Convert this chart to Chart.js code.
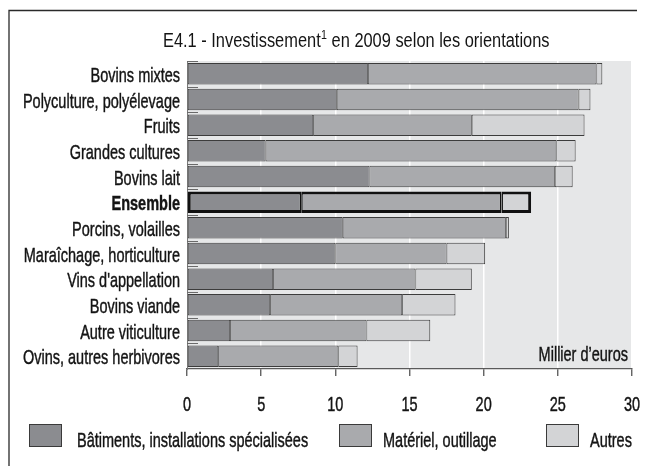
<!DOCTYPE html>
<html>
<head>
<meta charset="utf-8">
<script src="https://cdn.jsdelivr.net/npm/chart.js@4/dist/chart.umd.min.js"></script>
<style>
  html, body { margin: 0; padding: 0; background: #fff; }
  #wrap { width: 646px; height: 466px; }
</style>
</head>
<body>
<div id="wrap"><canvas id="myChart" width="646" height="466"></canvas></div>
<script>
/*
  • Data
  ---------- ---------- ---------- ---------- ----------
*/
const categories = [
  'Bovins mixtes', 'Polyculture, polyélevage', 'Fruits', 'Grandes cultures',
  'Bovins lait', 'Ensemble', 'Porcins, volailles', 'Maraîchage, horticulture',
  "Vins d'appellation", 'Bovins viande', 'Autre viticulture', 'Ovins, autres herbivores'
];
const batiments = [12.2, 10.1, 8.5, 5.3, 12.3, 7.7, 10.5, 10.0, 5.8, 5.6, 2.9, 2.1];
const materiel  = [15.4, 16.3, 10.7, 19.6, 12.5, 13.5, 11.0, 7.5, 9.6, 8.9, 9.2, 8.1];
const autres    = [0.4, 0.8, 7.6, 1.3, 1.2, 2.0, 0.2, 2.6, 3.8, 3.6, 4.3, 1.3];
const seriesNames = ['Bâtiments, installations spécialisées', 'Matériel, outillage', 'Autres'];
const xTicks = [0, 5, 10, 15, 20, 25, 30];
const titleText = ['E4.1 - Investissement', '1', ' en 2009 selon les orientations'];
const unitText = 'Millier d’euros';

/*
  • Config
  ---------- ---------- ---------- ---------- ----------
*/
const COLORS = ['#8b8c90', '#a9aaad', '#d3d4d6'];
const FONT = "'Liberation Sans', Arial, sans-serif";
const TEXT = '#141414';
const SX = 0.69;       // squeeze for the condensed labels
const SX_TITLE = 0.82; // narrow title
const ENSEMBLE = categories.indexOf('Ensemble');

function squeezed (ctx, text, x, y, font, align) {
  ctx.save();
  ctx.font = font;
  ctx.fillStyle = TEXT;
  ctx.strokeStyle = TEXT;
  ctx.lineWidth = 0.45;
  ctx.textAlign = align;
  ctx.textBaseline = 'alphabetic';
  ctx.translate(x, y);
  ctx.scale(SX, 1);
  ctx.fillText(text, 0, 0);
  ctx.strokeText(text, 0, 0);
  ctx.restore();
}

const decor = {
  id: 'decor',
  beforeDraw (chart) {
    const ctx = chart.ctx;
    const a = chart.chartArea;
    ctx.save();
    ctx.fillStyle = '#fff';
    ctx.fillRect(0, 0, chart.width, chart.height);
    ctx.fillStyle = '#e6e7e8';
    ctx.fillRect(a.left, a.top, a.right - a.left, a.bottom - a.top);
    // frame
    ctx.strokeStyle = '#2a2a2a';
    ctx.lineWidth = 1.3;
    ctx.beginPath();
    ctx.moveTo(9, chart.height);
    ctx.lineTo(9, 10.5);
    ctx.lineTo(637, 10.5);
    ctx.stroke();
    ctx.restore();
  },
  afterDraw (chart) {
    const ctx = chart.ctx;
    const a = chart.chartArea;
    const y = chart.scales.y;
    const x = chart.scales.x;

    // short inward ticks at category boundaries
    const step = y.getPixelForTick(1) - y.getPixelForTick(0);
    ctx.save();
    ctx.strokeStyle = '#6a6a6a';
    ctx.lineWidth = 1;
    chart.data.labels.forEach(function (lab, i) {
      const py = Math.round(y.getPixelForTick(i) - step / 2) + 0.5;
      ctx.beginPath();
      ctx.moveTo(a.left, py);
      ctx.lineTo(a.left + 11, py);
      ctx.stroke();
    });
    ctx.restore();

    // category labels
    chart.data.labels.forEach(function (lab, i) {
      const font = (i === ENSEMBLE ? 'bold ' : '') + '21px ' + FONT;
      squeezed(ctx, lab, a.left - 7, y.getPixelForTick(i) + 8, font, 'right');
    });

    // value labels
    xTicks.forEach(function (v) {
      squeezed(ctx, String(v), x.getPixelForValue(v), 410.5, '21px ' + FONT, 'center');
    });

    // unit
    squeezed(ctx, unitText, a.right - 4, 360.5, '21px ' + FONT, 'right');

    // title
    ctx.save();
    ctx.fillStyle = TEXT;
    ctx.textBaseline = 'alphabetic';
    ctx.textAlign = 'left';
    ctx.translate(163, 47);
    ctx.scale(SX_TITLE, 1);
    ctx.font = '20px ' + FONT;
    let tx = 0;
    ctx.fillText(titleText[0], tx, 0);
    tx += ctx.measureText(titleText[0]).width + 0.5;
    ctx.font = '13px ' + FONT;
    ctx.fillText(titleText[1], tx, -8);
    tx += ctx.measureText(titleText[1]).width;
    ctx.font = '20px ' + FONT;
    ctx.fillText(titleText[2], tx, 0);
    ctx.restore();

    // legend
    const boxX = [29, 339, 546];
    const textX = [77, 383, 590];
    chart.data.datasets.forEach(function (ds, i) {
      ctx.save();
      ctx.fillStyle = ds.backgroundColor;
      ctx.fillRect(boxX[i], 424, 33, 23);
      ctx.strokeStyle = '#3a3a3a';
      ctx.lineWidth = 1;
      ctx.strokeRect(boxX[i] + 0.5, 424.5, 32, 22);
      ctx.restore();
      squeezed(ctx, ds.label, textX[i], 447, '21px ' + FONT, 'left');
    });
  }
};

// outer ends of a stacked row get the full border, joins between segments a thinner one
function edges (index, last, outer, inner) {
  return {
    top: outer,
    bottom: outer,
    left: index === 0 ? outer : inner,
    right: index === last ? outer : inner
  };
}

function makeSet (label, data, color, index, last) {
  return {
    label: label,
    data: data,
    backgroundColor: color,
    borderColor: (c) => c.dataIndex === ENSEMBLE ? '#111111' : '#3c3c3c',
    borderWidth: (c) => c.dataIndex === ENSEMBLE ? edges(index, last, 3, 1.5) : edges(index, last, 1, 0.8),
    borderSkipped: false,
    inflateAmount: 0,
    categoryPercentage: 1,
    barPercentage: 0.84
  };
}

/*
  • Init
  ---------- ---------- ---------- ---------- ----------
*/
const ctx = document.getElementById('myChart').getContext('2d');
new Chart(ctx, {
  type: 'bar',
  data: {
    labels: categories,
    datasets: [
      makeSet(seriesNames[0], batiments, COLORS[0], 0, 2),
      makeSet(seriesNames[1], materiel, COLORS[1], 1, 2),
      makeSet(seriesNames[2], autres, COLORS[2], 2, 2)
    ]
  },
  options: {
    indexAxis: 'y',
    responsive: false,
    animation: false,
    layout: {
      padding: {top: 61, right: 14, left: 0, bottom: 0}
    },
    plugins: {
      legend: {display: false},
      title: {display: false},
      tooltip: {enabled: false}
    },
    scales: {
      x: {
        type: 'linear',
        stacked: true,
        min: 0,
        max: 30,
        afterFit: (s) => { s.height = 97; },
        afterBuildTicks: (s) => { s.ticks = xTicks.map((v) => ({value: v})); },
        grid: {
          color: '#ffffff',
          lineWidth: 1.5,
          drawTicks: true,
          tickLength: 7,
          tickColor: '#555555',
          tickWidth: 1.3
        },
        border: {display: true, color: '#5a5a5a', width: 1.3},
        ticks: {display: false}
      },
      y: {
        type: 'category',
        stacked: true,
        offset: true,
        afterFit: (s) => { s.width = 187; },
        grid: {display: false},
        border: {display: true, color: '#7a7a7a', width: 1},
        ticks: {display: false}
      }
    }
  },
  plugins: [decor]
});
</script>
</body>
</html>
